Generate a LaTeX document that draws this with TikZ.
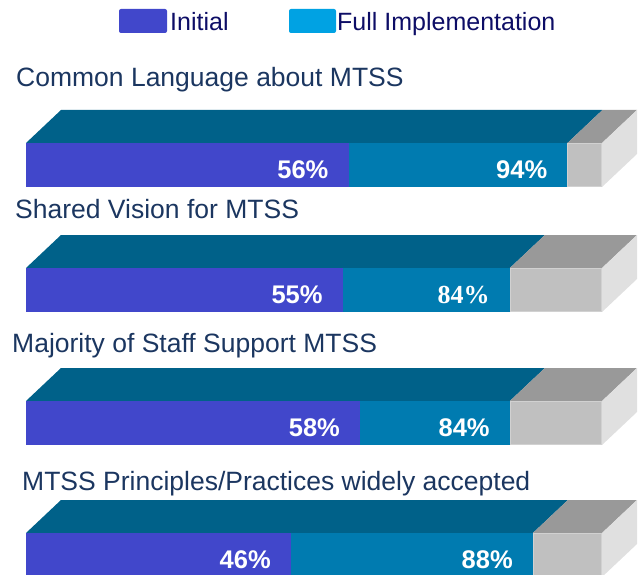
\documentclass[tikz,border=0pt]{standalone}
\usepackage{fontspec}
\setmainfont{Liberation Sans}
\newfontfamily\serifbold{Liberation Serif}
\definecolor{initc}{HTML}{4147CB}
\definecolor{legcyan}{HTML}{00A2E3}
\definecolor{fullfront}{HTML}{007BB0}
\definecolor{fulltop}{HTML}{006189}
\definecolor{graytop}{HTML}{999999}
\definecolor{grayfront}{HTML}{C0C0C0}
\definecolor{grayside}{HTML}{E0E0E0}
\definecolor{titlec}{HTML}{1B3660}
\definecolor{legtext}{HTML}{0D0D66}
\tikzset{
  titletext/.style={anchor=base west, inner sep=0pt, text=titlec, font=\fontsize{26.5}{30}\selectfont},
  legtxt/.style={anchor=base west, inner sep=0pt, text=legtext, font=\fontsize{25}{30}\selectfont},
  legbox/.style={rounded corners=2pt},
  sanspct/.style={anchor=base east, inner sep=0pt, text=white, font=\fontsize{25.5}{30}\selectfont\bfseries},
  serifpct/.style={anchor=base east, inner sep=0pt, text=white, font=\fontsize{26}{30}\serifbold\bfseries},
}
\begin{document}
\begin{tikzpicture}[x=1pt,y=-1pt]
\useasboundingbox (0,0) rectangle (642,575);
\clip (0,0) rectangle (642,575);
% legend
\fill[initc, legbox] (119,9) rectangle (167,33);
\node[legtxt] (leginit) at (170,31) {Initial};
\fill[legcyan, legbox] (289,9) rectangle (336,33);
\node[legtxt] (legfull) at (337,31) {Full Implementation};
% titles
\node[titletext] (t1) at (16,87) {Common Language about MTSS};
\node[titletext] (t2) at (15,218) {Shared Vision for MTSS};
\node[titletext] (t3) at (12,352) {Majority of Staff Support MTSS};
\node[titletext] (t4) at (22,490) {MTSS Principles/Practices widely accepted};
% bars
\foreach \T/\I/\F/\fs [count=\k] in {143/56/94/sanspct, 268/55/84/serifpct, 401/58/84/sanspct, 533/46/88/sanspct} {
  \pgfmathsetmacro\xI{26+5.76*\I}
  \pgfmathsetmacro\xF{26+5.76*\F}
  % top faces
  \fill[fulltop] (26,\T) -- (61,\T-33) -- (\xF+35,\T-33) -- (\xF,\T) -- cycle;
  \fill[graytop] (\xF,\T) -- (\xF+35,\T-33) -- (637,\T-33) -- (602,\T) -- cycle;
  % side face
  \fill[grayside] (602,\T) -- (637,\T-33) -- (637,\T+11) -- (602,\T+44) -- cycle;
  % front faces
  \fill[initc] (26,\T) rectangle (\xI,\T+44);
  \fill[fullfront] (\xI,\T) rectangle (\xF,\T+44);
  \fill[grayfront] (\xF,\T) rectangle (602,\T+44);
  \draw[white!82!black, line width=1pt] (\xF+0.5,\T+0.5) rectangle (601.5,\T+43.5);
  % labels
  \node[sanspct] (li\k) at (\xI-20,\T+35) {\I\%};
  \node[\fs] (lf\k) at (\xF-20,\T+35) {\F\%};
}
\end{tikzpicture}
\end{document}
